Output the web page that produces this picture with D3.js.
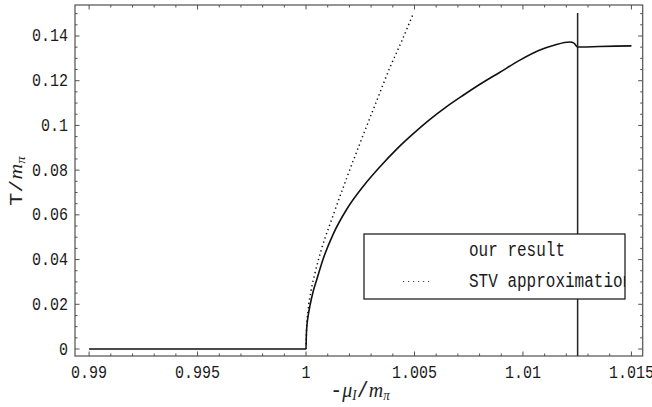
<!DOCTYPE html>
<html>
<head>
<meta charset="utf-8">
<script src="https://cdn.jsdelivr.net/npm/d3@7"></script>
<style>
  html, body { margin: 0; padding: 0; background: #fff; }
  svg { display: block; }
</style>
</head>
<body>
<svg id="chart" width="652" height="407"></svg>
<script>
// ---- data ----
const ourX = [0.99, 1.0, 1.0000138, 1.000046, 1.000092, 1.000184, 1.000323, 1.000493, 1.000797, 1.001258, 1.001876, 1.002641, 1.00341, 1.00418, 1.004945, 1.005714, 1.006484, 1.007249, 1.008018, 1.00894, 1.00986, 1.01078, 1.01147, 1.01217, 1.01235, 1.01252, 1.0127, 1.0135, 1.0150];
const ourT = [0, 0, 0.006, 0.011, 0.0145, 0.0195, 0.0255, 0.031, 0.0405, 0.0515, 0.0625, 0.0728, 0.0815, 0.0894, 0.0963, 0.1027, 0.1084, 0.1135, 0.1184, 0.1238, 0.1292, 0.1337, 0.1360, 0.1373, 0.1368, 0.1351, 0.1351, 0.1353, 0.1356];

const stvX = [1.0, 1.000023, 1.000092, 1.00023, 1.000415, 1.000724, 1.001258, 1.001876, 1.002567, 1.003258, 1.003871, 1.004424, 1.004917];
const stvT = [0, 0.0085, 0.017, 0.026, 0.034, 0.045, 0.060, 0.0765, 0.094, 0.111, 0.126, 0.138, 0.1494];

const transitionX = [1.01252];
const transitionT = [-0.00313, 0.1503];

const xMajorTicks = [0.99, 0.995, 1.0, 1.005, 1.01, 1.015];
const xTickLabels = ["0.99", "0.995", "1", "1.005", "1.01", "1.015"];
const yMajorTicks = [0, 0.02, 0.04, 0.06, 0.08, 0.1, 0.12, 0.14];
const yTickLabels = ["0", "0.02", "0.04", "0.06", "0.08", "0.1", "0.12", "0.14"];
const legendLabels = ["our result", "STV approximation"];

// ---- layout ----
const L = 75, R = 642.7, T = 5, B = 356;
const SY = 1.25; // vertical stretch of the text, as in the reference
const MONO = "'Liberation Mono', 'DejaVu Sans Mono', monospace";
const SERIF = "'Liberation Serif', 'DejaVu Serif', serif";

const svg = d3.select("#chart");
const x = d3.scaleLinear().domain([0.98935, 1.01552]).range([L, R]);
const y = d3.scaleLinear().domain([-0.00313, 0.15386]).range([B, T]);

const frameColor = "#505050";

const xMinor = d3.range(0, 26).map(i => +(0.99 + i * 0.001).toFixed(4)).filter(v => !xMajorTicks.some(m => Math.abs(m - v) < 1e-9));
const yMinor = d3.range(0, 31).map(i => +(i * 0.005).toFixed(4)).filter(v => !yMajorTicks.some(m => Math.abs(m - v) < 1e-9) && y(v) > T);

const g = svg.append("g");

function drawTicks(vals, len) {
  vals.forEach(v => {
    const px = x(v);
    g.append("line").attr("x1", px).attr("x2", px).attr("y1", B).attr("y2", B - len).attr("stroke", frameColor).attr("stroke-width", 1);
    g.append("line").attr("x1", px).attr("x2", px).attr("y1", T).attr("y2", T + len).attr("stroke", frameColor).attr("stroke-width", 1);
  });
}
function drawYTicks(vals, len) {
  vals.forEach(v => {
    const py = y(v);
    g.append("line").attr("x1", L).attr("x2", L + len).attr("y1", py).attr("y2", py).attr("stroke", frameColor).attr("stroke-width", 1);
    g.append("line").attr("x1", R).attr("x2", R - len).attr("y1", py).attr("y2", py).attr("stroke", frameColor).attr("stroke-width", 1);
  });
}
drawTicks(xMajorTicks, 4.5);
drawTicks(xMinor, 2.5);
drawYTicks(yMajorTicks, 4.5);
drawYTicks(yMinor, 2.5);

g.append("rect").attr("x", L).attr("y", T).attr("width", R - L).attr("height", B - T)
  .attr("fill", "none").attr("stroke", frameColor).attr("stroke-width", 1.2);

function stretchedText(parent, px, py, str, anchor, size, family) {
  return parent.append("text")
    .attr("transform", `translate(${px},${py}) scale(1,${SY})`)
    .attr("text-anchor", anchor)
    .attr("font-family", family || MONO)
    .attr("font-size", size)
    .attr("fill", "#1a1a1a")
    .text(str);
}
xMajorTicks.forEach((v, i) => stretchedText(g, x(v), 378, xTickLabels[i], "middle", 15));
yMajorTicks.forEach((v, i) => stretchedText(g, 68, y(v) + 5.5, yTickLabels[i], "end", 15));

const lineOur = d3.line().x(d => x(d[0])).y(d => y(d[1])).curve(d3.curveMonotoneX);
g.append("path").datum(ourX.map((v, i) => [v, ourT[i]]))
  .attr("d", lineOur).attr("fill", "none").attr("stroke", "#111").attr("stroke-width", 1.6);

const lineStv = d3.line().x(d => x(d[0])).y(d => y(d[1])).curve(d3.curveMonotoneX);
g.append("path").datum(stvX.map((v, i) => [v, stvT[i]]))
  .attr("d", lineStv).attr("fill", "none").attr("stroke", "#111").attr("stroke-width", 1.5)
  .attr("stroke-dasharray", "1.3,3.2");

g.append("line")
  .attr("x1", x(transitionX[0])).attr("x2", x(transitionX[0]))
  .attr("y1", y(transitionT[0])).attr("y2", y(transitionT[1]))
  .attr("stroke", "#222").attr("stroke-width", 1.5);

const lg = { x: 364, y: 234, w: 261, h: 65 };
svg.append("defs").append("clipPath").attr("id", "legclip")
  .append("rect").attr("x", lg.x).attr("y", lg.y).attr("width", lg.w).attr("height", lg.h);
const leg = svg.append("g");
leg.append("rect").attr("x", lg.x).attr("y", lg.y).attr("width", lg.w).attr("height", lg.h)
  .attr("fill", "#fff").attr("stroke", "#222").attr("stroke-width", 1.3);
const legText = leg.append("g").attr("clip-path", "url(#legclip)");
stretchedText(legText, 469, 256, legendLabels[0], "start", 16);
stretchedText(legText, 469, 287, legendLabels[1], "start", 16);
leg.append("line").attr("x1", 403).attr("x2", 429).attr("y1", 281.5).attr("y2", 281.5)
  .attr("stroke", "#444").attr("stroke-width", 1.2).attr("stroke-dasharray", "1.2,3.8");

const xt = svg.append("text")
  .attr("transform", `translate(360,397) scale(1,1.1)`)
  .attr("text-anchor", "middle").attr("font-size", 20).attr("fill", "#222");
xt.append("tspan").attr("font-family", MONO).text("-");
xt.append("tspan").attr("font-family", SERIF).attr("font-style", "italic").text("μ");
xt.append("tspan").attr("font-family", SERIF).attr("font-style", "italic").attr("font-size", 13).attr("dy", 3).text("I");
xt.append("tspan").attr("font-family", MONO).attr("dy", -3).text("/");
xt.append("tspan").attr("font-family", SERIF).attr("font-style", "italic").text("m");
xt.append("tspan").attr("font-family", SERIF).attr("font-style", "italic").attr("font-size", 13).attr("dy", 3).text("π");

const yt = svg.append("text")
  .attr("transform", `translate(22,181) rotate(-90) scale(1.15,1)`)
  .attr("text-anchor", "middle").attr("font-size", 19).attr("fill", "#222");
yt.append("tspan").attr("font-family", MONO).text("T");
yt.append("tspan").attr("font-family", MONO).text("/");
yt.append("tspan").attr("font-family", SERIF).attr("font-style", "italic").text("m");
yt.append("tspan").attr("font-family", SERIF).attr("font-style", "italic").attr("font-size", 13).attr("dy", 3).text("π");
</script>
</body>
</html>
